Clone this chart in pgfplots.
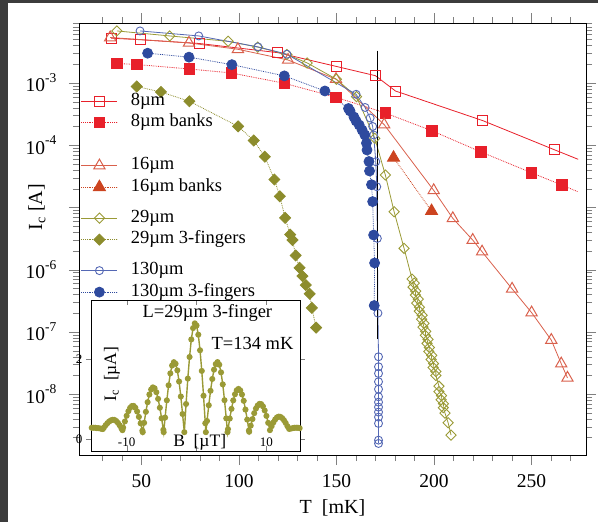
\documentclass[border=0pt]{standalone}
\usepackage{fontspec}
\setmainfont{Liberation Serif}
\usepackage{pgfplots}
\pgfplotsset{compat=1.18}
\definecolor{cRed}{HTML}{E8202A}
\definecolor{cSal}{HTML}{D9604C}
\definecolor{cOrg}{HTML}{CC4420}
\definecolor{cOli}{HTML}{9A9A36}
\definecolor{cOliD}{HTML}{8C8C2C}
\definecolor{cBlu}{HTML}{2E4A9E}
\definecolor{cBluL}{HTML}{5468B4}
\definecolor{frameC}{HTML}{3C3C3C}
\newcommand{\dec}[1]{10\raisebox{0.47em}{\fontsize{13.5}{15}\selectfont -#1}}
\begin{document}
\begin{tikzpicture}[font=\fontsize{19}{22}\selectfont]
\useasboundingbox (0pt,0pt) rectangle (598pt,522pt);
\fill[frameC] (0pt,0pt) rectangle (8pt,522pt);
\fill[frameC] (0pt,519pt) rectangle (598pt,522pt);
\begin{axis}[
  at={(79pt,67pt)}, anchor=south west,
  scale only axis, width=507pt, height=432pt,
  ymode=log, xmin=18, xmax=278, ymin=1.05e-9, ymax=9.2e-3,
  tick align=outside, major tick length=10pt, minor tick length=6pt,
  xtick={50,100,150,200,250},
  minor xtick={30,40,...,270},
  ytick={1e-8,1e-7,1e-6,1e-5,1e-4,1e-3},
  yticklabels={\dec{8},\dec{7},\dec{6},,\dec{4},\dec{3}},
  minor ytick={2e-9,3e-9,4e-9,5e-9,6e-9,7e-9,8e-9,9e-9,
    2e-8,3e-8,4e-8,5e-8,6e-8,7e-8,8e-8,9e-8,
    2e-7,3e-7,4e-7,5e-7,6e-7,7e-7,8e-7,9e-7,
    2e-6,3e-6,4e-6,5e-6,6e-6,7e-6,8e-6,9e-6,
    2e-5,3e-5,4e-5,5e-5,6e-5,7e-5,8e-5,9e-5,
    2e-4,3e-4,4e-4,5e-4,6e-4,7e-4,8e-4,9e-4,
    2e-3,3e-3,4e-3,5e-3,6e-3,7e-3,8e-3,9e-3},
  /pgf/number format/assume math mode=true,
  tick label style={font=\fontsize{19.5}{22}\selectfont},
  xticklabel style={yshift=-8pt, inner sep=1pt},
  yticklabel style={xshift=-9pt},
  xlabel={T~~[mK]},
  xlabel style={at={(axis description cs:0.5,-0.123)}, anchor=center, inner sep=0pt, font=\fontsize{20}{22}\selectfont},
  ylabel={I\textsubscript{c} [A]},
  ylabel style={at={(axis description cs:-0.083,0.574)}, anchor=center, font=\fontsize{20}{22}\selectfont},
  legend image code/.code={\draw[mark repeat=2,mark phase=2] plot coordinates {(0pt,0pt) (18pt,0pt) (36pt,0pt)};},
  legend style={at={(axis description cs:0.004,0.840)}, anchor=north west,
    draw=none, fill=none, inner sep=0pt, outer sep=0pt,
    row sep=3.5pt, column sep=0pt,
    font=\fontsize{18.5}{21}\selectfont,
    nodes={text height=12pt, text depth=4pt, inner sep=1pt},
    /tikz/every odd column/.append style={column sep=12pt}},
  legend cell align=left,
]
% 8um
\addplot[cRed, line width=0.8pt, mark=square, mark size=5pt, mark options={line width=1pt}]
 coordinates {(34.5,5.24e-3) (49.3,4.96e-3) (79.7,4.31e-3) (120,3.07e-3) (149.8,1.85e-3) (170,1.31e-3) (180.3,7.43e-4) (225.1,2.48e-4) (262,8.4e-5)};
\addlegendentry{8µm}
\addplot[cRed, line width=0.8pt, densely dotted, mark=square*, mark size=5.2pt, mark options={solid}]
 coordinates {(37.4,2.06e-3) (47.6,1.98e-3) (74.5,1.68e-3) (96,1.45e-3) (123.3,9.9e-4) (149.7,5.89e-4) (175,3.3e-4) (198.9,1.71e-4) (224.2,7.78e-5) (250,3.61e-5) (265.6,2.29e-5)};
\addlegendentry{8µm banks}
\addplot[cRed, line width=0.8pt, forget plot] coordinates {(262,8.4e-5) (274,5.93e-5)};
\addplot[cRed, line width=0.8pt, densely dotted, forget plot] coordinates {(265.6,2.29e-5) (273.8,1.79e-5)};
\addlegendimage{empty legend}
\addlegendentry[text height=12pt, text depth=4pt]{}
% 16um
\addplot[cSal, line width=0.8pt, mark=triangle, mark size=6.5pt, mark options={line width=1pt}]
 coordinates {(34,5.38e-3) (74.4,4.40e-3) (99.5,3.48e-3) (125.2,2.34e-3) (149.8,1.15e-3) (174.5,2.14e-4) (199.9,1.88e-5) (209.7,6.68e-6) (219.9,2.99e-6) (224.7,1.94e-6) (240.1,4.91e-7) (250.1,2.04e-7) (260.2,7.38e-8) (265.3,3.08e-8) (268.5,1.82e-8)};
\addlegendentry{16µm}
\addplot[cOrg, line width=0.8pt, densely dotted, mark=triangle*, mark size=7pt, mark options={solid}]
 coordinates {(179.3,6.3e-5) (198.8,8.75e-6)};
\addlegendentry{16µm banks}
\addlegendimage{empty legend}
\addlegendentry[text height=0pt, text depth=4pt]{}
% 29um
\addplot[cOli, line width=0.8pt, mark=square, mark size=3.6pt, mark options={rotate=45, line width=0.9pt}]
 coordinates {(37.4,6.86e-3) (64.5,5.70e-3) (94.5,4.68e-3) (109.7,3.77e-3) (124.6,2.87e-3) (135,2.10e-3) (150,1.15e-3) (160.3,6.02e-4) (169.7,1.29e-4) (175.1,3.32e-5) (179.6,8.53e-6) (184.7,2.2e-6)
 (188.8,7.06e-7) (189.9,6.08e-7) (189.3,5.25e-7) (190.7,4.52e-7) (190.5,3.90e-7) (192.0,3.36e-7) (191.2,2.89e-7) (192.6,2.49e-7) (192.5,2.15e-7) (194.0,1.85e-7) (193.7,1.60e-7) (194.9,1.37e-7) (194.4,1.19e-7) (195.8,1.02e-7) (195.6,8.80e-8) (197.0,7.59e-8) (196.5,6.53e-8) (197.7,5.62e-8) (197.4,4.85e-8) (198.9,4.18e-8) (198.6,3.60e-8) (199.8,3.10e-8) (199.6,2.67e-8) (201.0,2.31e-8) (201.0,1.99e-8) (202.6,1.34e-8) (202.6,1.10e-8) (203.9,9.44e-9) (203.7,8.13e-9) (204.9,7.01e-9) (204.8,6.04e-9) (205.7,4.95e-9) (207.3,3.46e-9) (208.8,2.19e-9)};
\addlegendentry{29µm}
\addplot[cOliD, line width=0.8pt, densely dotted, mark=square*, mark size=3.9pt, mark options={rotate=45, solid}]
 coordinates {(47.6,8.79e-4) (60.0,7.17e-4) (74.6,5.08e-4) (99.6,2.01e-4) (107.6,1.19e-4) (113.3,6.53e-5) (118.2,2.81e-5) (121,1.51e-5) (123.7,6.81e-6) (126.3,3.66e-6) (127.5,2.99e-6) (129.1,1.69e-6) (131.1,1.07e-6) (132.6,7.89e-7) (134.3,5.65e-7) (136.3,4.09e-7) (137.4,2.43e-7) (139.6,1.17e-7)};
\addlegendentry{29µm 3-fingers}
\addlegendimage{empty legend}
\addlegendentry[text height=0pt, text depth=4pt]{}
% 130um
\addplot[cBluL, line width=0.8pt, mark=o, mark size=4pt, mark options={line width=0.9pt}]
 coordinates {(49.3,6.86e-3) (79.4,5.70e-3) (109.8,3.8e-3) (124.6,2.9e-3) (160.1,6.58e-4) (164.7,4.04e-4) (167.3,2.74e-4) (168.6,2.0e-4) (169.1,1.46e-4) (170.2,5.43e-5) (170.7,2.15e-5) (171.0,3.18e-6) (171.3,2.0e-7) (171.6,3.98e-8) (171.6,2.75e-8) (171.6,2.15e-8) (171.6,1.58e-8) (171.6,1.2e-8) (171.6,9.06e-9) (171.6,7.43e-9) (171.6,6.18e-9) (171.6,5.14e-9) (171.6,4.27e-9) (171.6,3.38e-9) (171.6,1.82e-9) (171.6,1.61e-9)};
\addlegendentry{130µm}
\addplot[cBlu, line width=0.8pt, densely dotted, mark=*, mark size=5pt, mark options={solid}]
 coordinates {(53.2,3.01e-3) (74.4,2.60e-3) (96.4,1.97e-3) (123.3,1.30e-3) (144.1,7.44e-4) (156.2,3.89e-4) (157,3.55e-4) (159,2.84e-4) (160.1,2.45e-4) (161.7,2.11e-4) (163.2,1.75e-4) (164.6,1.46e-4) (165.4,1.08e-4) (165.7,8.37e-5) (166.7,5.47e-5) (167,3.85e-5) (168,2.32e-5) (168.6,1.24e-5) (169.1,3.60e-6) (169.6,1.28e-6) (169.4,2.65e-7)};
\addlegendentry{130µm 3-fingers}
% vertical line
\addplot[black, line width=1.2pt, forget plot] coordinates {(170.9,3.3e-3) (170.9,7.6e-8)};
\end{axis}
% inset
\begin{axis}[
  at={(91pt,71pt)}, anchor=south west,
  scale only axis, width=209pt, height=151pt,
  xmin=-15.1, xmax=14.8, ymin=-0.3, ymax=3.47,
  axis background/.style={fill=white},
  xtick={-10,0,10}, xticklabels={-10,,10},
  ytick={0,2},
  /pgf/number format/assume math mode=true,
  tick label style={font=\fontsize{13}{15}\selectfont},
  xtick align=inside, ytick align=outside, major tick length=5pt,
  xticklabel style={anchor=south, yshift=1pt},
  xlabel={B~~[µT]},
  xlabel style={at={(axis description cs:0.52,0)}, anchor=south, inner sep=1pt, font=\fontsize{17.5}{20}\selectfont},
  ylabel={I\textsubscript{c} ~[µA]},
  ylabel style={at={(axis description cs:0.1,0.51)}, anchor=center, font=\fontsize{17.5}{20}\selectfont},
]
\addplot[cOli, line width=1.4pt, mark=*, mark size=2.3pt]
 coordinates {(-15,0.28) (-14.75,0.28) (-14.5,0.28) (-14.25,0.27) (-14,0.27) (-13.75,0.26) (-13.5,0.25) (-13.4,0.25) (-13.25,0.286) (-13,0.344) (-12.75,0.395) (-12.5,0.436) (-12.25,0.465) (-12,0.479) (-11.75,0.476) (-11.5,0.45) (-11.25,0.404) (-11,0.341) (-10.75,0.267) (-10.6,0.22) (-10.5,0.284) (-10.25,0.438) (-10,0.579) (-9.75,0.694) (-9.5,0.778) (-9.25,0.823) (-9,0.826) (-8.75,0.78) (-8.5,0.686) (-8.25,0.552) (-8,0.39) (-7.75,0.208) (-7.7,0.17) (-7.5,0.403) (-7.25,0.678) (-7,0.919) (-6.75,1.11) (-6.5,1.235) (-6.25,1.289) (-6,1.265) (-5.75,1.168) (-5.5,1.002) (-5.25,0.78) (-5,0.516) (-4.75,0.228) (-4.7,0.17) (-4.5,0.534) (-4.25,0.965) (-4,1.341) (-3.75,1.638) (-3.5,1.834) (-3.25,1.918) (-3,1.878) (-2.75,1.714) (-2.5,1.435) (-2.25,1.061) (-2,0.623) (-1.75,0.17) (-1.5,0.874) (-1.25,1.508) (-1,2.047) (-0.75,2.485) (-0.5,2.768) (-0.25,2.887) (0,2.833) (0.25,2.604) (0.5,2.215) (0.75,1.699) (1,1.079) (1.25,0.393) (1.33,0.17) (1.5,0.45) (1.75,0.842) (2,1.203) (2.25,1.498) (2.5,1.731) (2.75,1.871) (3,1.92) (3.25,1.854) (3.5,1.663) (3.75,1.364) (4,0.968) (4.25,0.515) (4.43,0.17) (4.5,0.246) (4.75,0.51) (5,0.752) (5.25,0.964) (5.5,1.117) (5.75,1.217) (6,1.25) (6.25,1.215) (6.5,1.111) (6.75,0.953) (7,0.734) (7.25,0.484) (7.5,0.213) (7.53,0.18) (7.75,0.333) (8,0.497) (8.25,0.644) (8.5,0.76) (8.75,0.837) (9,0.876) (9.25,0.871) (9.5,0.815) (9.75,0.712) (10,0.576) (10.25,0.403) (10.5,0.22) (10.75,0.321) (11,0.413) (11.25,0.487) (11.5,0.538) (11.75,0.559) (12,0.552) (12.25,0.521) (12.5,0.469) (12.75,0.4) (13,0.319) (13.25,0.25) (13.5,0.26) (13.75,0.27) (14,0.28) (14.25,0.28) (14.5,0.28) (14.75,0.27)};
\node[font=\fontsize{18.5}{21}\selectfont, inner sep=0pt] at (axis description cs:0.557,0.914) {L=29µm 3-finger};
\node[font=\fontsize{18.5}{21}\selectfont, inner sep=0pt] at (axis description cs:0.773,0.715) {T=134 mK};
\end{axis}
\end{tikzpicture}
\end{document}
